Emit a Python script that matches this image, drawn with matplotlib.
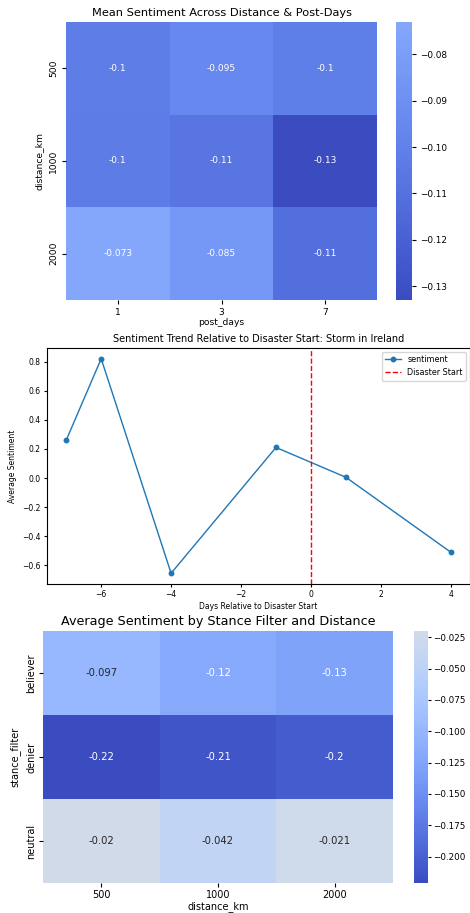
import matplotlib
matplotlib.use('Agg')
import matplotlib.pyplot as plt
import numpy as np
import pandas as pd
import seaborn as sns

# heatmap 1: mean sentiment by distance and post days
distances = [500, 1000, 2000]
post_days = [1, 3, 7]
mean_sent = [[-0.102, -0.095, -0.101],
             [-0.103, -0.108, -0.133],
             [-0.073, -0.085, -0.112]]

# line: sentiment relative to disaster start
rel_days = [-7, -6, -4, -1, 1, 4]
trend = [0.26, 0.82, -0.655, 0.21, 0.005, -0.51]

# heatmap 2: stance filter by distance
stances = ['believer', 'denier', 'neutral']
stance_sent = [[-0.097, -0.118, -0.127],
               [-0.221, -0.212, -0.204],
               [-0.020, -0.042, -0.021]]

W, H = 470, 913

def box(x0, y0, x1, y1):
    return [x0 / W, 1 - y1 / H, (x1 - x0) / W, (y1 - y0) / H]

fig = plt.figure(figsize=(W / 100, H / 100), dpi=100)

# ---- top heatmap
ax1 = fig.add_axes(box(66, 22, 377, 300))
cax1 = fig.add_axes(box(396, 22, 412, 300))
df1 = pd.DataFrame(mean_sent, index=pd.Index(distances, name='distance_km'),
                   columns=pd.Index(post_days, name='post_days'))
sns.heatmap(df1, ax=ax1, cbar_ax=cax1, cmap='coolwarm', center=0, annot=True,
            annot_kws={'size': 6.5})
ax1.set_title('Mean Sentiment Across Distance & Post-Days', fontsize=8.2, pad=4)
ax1.tick_params(labelsize=6.6, length=3, pad=2.5)
ax1.set_yticklabels(ax1.get_yticklabels(), rotation=90, va='center')
ax1.set_xlabel('post_days', fontsize=6.6, labelpad=1)
ax1.set_ylabel('distance_km', fontsize=6.6)
cax1.tick_params(labelsize=6.4, length=3, pad=2.5)

# ---- line chart
ax2 = fig.add_axes(box(47, 348, 470, 584))
ax2.plot(rel_days, trend, marker='o', markersize=3.2, linewidth=1, label='sentiment')
ax2.axvline(0, color='red', linestyle='--', linewidth=1, label='Disaster Start')
ax2.set_title('Sentiment Trend Relative to Disaster Start: Storm in Ireland', fontsize=7, pad=4)
ax2.set_xlabel('Days Relative to Disaster Start', fontsize=5.5, labelpad=2)
ax2.set_ylabel('Average Sentiment', fontsize=5.5)
ax2.tick_params(labelsize=5.5, length=2.5, pad=2)
ax2.legend(fontsize=5.8, loc='upper right')

# ---- bottom heatmap
ax3 = fig.add_axes(box(43, 631, 393, 883))
cax3 = fig.add_axes(box(414, 631, 428, 883))
df3 = pd.DataFrame(stance_sent, index=pd.Index(stances, name='stance_filter'),
                   columns=pd.Index(distances, name='distance_km'))
sns.heatmap(df3, ax=ax3, cbar_ax=cax3, cmap='coolwarm', center=0, annot=True,
            annot_kws={'size': 7.2})
ax3.set_title('Average Sentiment by Stance Filter and Distance', fontsize=9.2, pad=4)
ax3.tick_params(labelsize=7, length=3, pad=2)
ax3.set_yticklabels(ax3.get_yticklabels(), rotation=90, va='center')
ax3.set_xlabel('distance_km', fontsize=7, labelpad=0.5)
ax3.set_ylabel('stance_filter', fontsize=7)
cax3.tick_params(labelsize=6.3, length=2.5, pad=1.5)

fig.savefig('out.png', dpi=100)
